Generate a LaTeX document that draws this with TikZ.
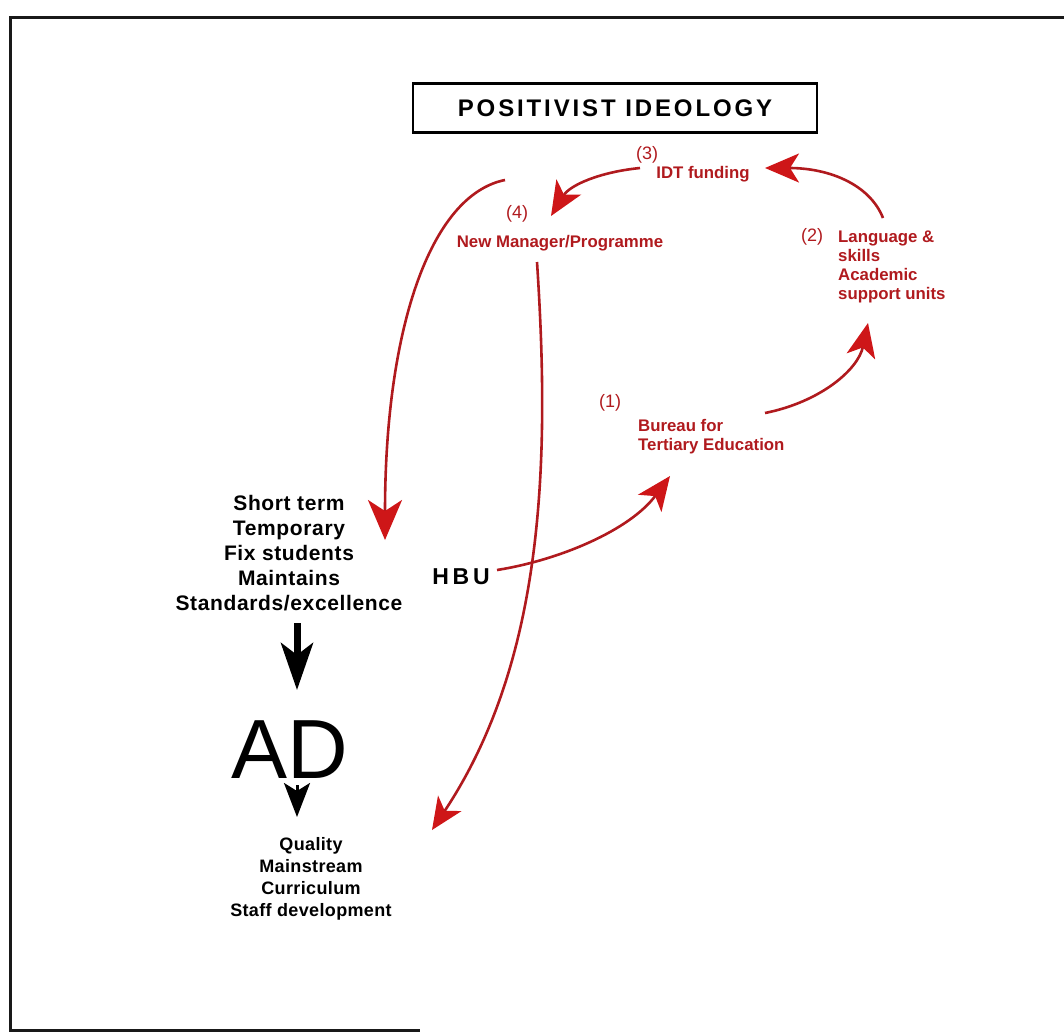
\documentclass[tikz,border=0pt]{standalone}
\usepackage{fontspec}
\setmainfont{Liberation Sans}
\usetikzlibrary{arrows.meta}
\definecolor{rd}{RGB}{176,26,30}
\definecolor{rdhead}{RGB}{206,22,24}
\begin{document}
\begin{tikzpicture}[x=1pt,y=-1pt,
  redtxt/.style={text=rd, font=\bfseries\fontsize{16.8}{19}\selectfont, inner sep=0pt},
  rednum/.style={text=rd, font=\fontsize{18}{20}\selectfont, inner sep=0pt},
  blktxt/.style={font=\bfseries\fontsize{21}{25}\selectfont\addfontfeatures{LetterSpace=3}, align=center, inner sep=0pt},
  redarrow/.style={draw=rd, line width=2.6pt, -{Stealth[length=34pt,width=29pt,inset=9pt,fill=rdhead,color=rdhead]}},
  frameline/.style={line width=3pt, black!90}
]
\useasboundingbox (0,0) rectangle (1064,1034);
% outer frame (open on the right)
\draw[frameline] (1064,17) -- (10,17) -- (10,1030) -- (420,1030);

% title
\node[draw, line width=2.6pt, minimum width=404pt, minimum height=49pt, inner sep=0pt,
      font=\bfseries\fontsize{24}{26}\selectfont\addfontfeatures{LetterSpace=12}] (title) at (615,108) {POSITIVIST IDEOLOGY};

% red labels
\node[rednum] (n3) at (647,155) {(3)};
\node[redtxt] (idt) at (703,174) {IDT funding};
\node[rednum] (n4) at (517,214) {(4)};
\node[redtxt] (mgr) at (560,243) {New Manager/Programme};
\node[rednum] (n2) at (812,237) {(2)};
\node[redtxt, anchor=north west, align=left, font=\bfseries\fontsize{16.8}{18.8}\selectfont] (lang) at (838,231) {Language \&\\skills\\Academic\\support units};
\node[rednum] (n1) at (610,403) {(1)};
\node[redtxt, anchor=north west, align=left] (bur) at (638,419) {Bureau for\\Tertiary Education};

% black text
\node[blktxt] (short) at (289,553) {Short term\\Temporary\\Fix students\\Maintains\\Standards/excellence};
\node[font=\bfseries\fontsize{23}{26}\selectfont, inner sep=0pt] (hbu) at (461,577) {H\,B\,U};
\node[font=\fontsize{84}{90}\selectfont, inner sep=0pt, anchor=base] (ad) at (290,778) {AD};
\node[font=\bfseries\fontsize{18}{22}\selectfont\addfontfeatures{LetterSpace=2}, align=center, inner sep=0pt] (qual) at (311,879) {Quality\\Mainstream\\Curriculum\\Staff development};

% coordinates for arrow ends
\coordinate (hbuS) at (497,570);
\coordinate (burT) at (670,476);
\coordinate (burS) at (765,413);
\coordinate (langT) at (868,323);
\coordinate (langS) at (883,218);
\coordinate (idtT) at (765,168);
\coordinate (idtS) at (640,168);
\coordinate (mgrT) at (551,216);
\coordinate (loopS) at (505,180);
\coordinate (shortT) at (385,540);
\coordinate (mgrS) at (537,262);
\coordinate (qualT) at (432,830);

% red arrows
\draw[redarrow] (hbuS) .. controls (560,560) and (630,530) .. (burT);
\draw[redarrow] (burS) .. controls (820,402) and (858,370) .. (langT);
\draw[redarrow] (langS) .. controls (870,185) and (830,168) .. (idtT);
\draw[redarrow] (idtS) .. controls (600,172) and (570,185) .. (mgrT);
\draw[redarrow, -{Stealth[length=40pt,width=34pt,inset=11pt,fill=rdhead,color=rdhead]}] (loopS) .. controls (430,195) and (385,330) .. (shortT);
\draw[redarrow, -{Stealth[length=32pt,width=28pt,inset=9pt,fill=rdhead,color=rdhead]}] (mgrS) .. controls (550,460) and (545,660) .. (qualT);

% black arrows
\coordinate (adT) at (297,690);
\coordinate (qT) at (297,817);
\draw[line width=7pt, -{Stealth[length=47pt,width=32pt,inset=12pt]}] (297,623) -- (adT);
\draw[line width=3pt, -{Stealth[length=34pt,width=26pt,inset=8pt]}] (297,785) -- (qT);
\end{tikzpicture}
\end{document}
